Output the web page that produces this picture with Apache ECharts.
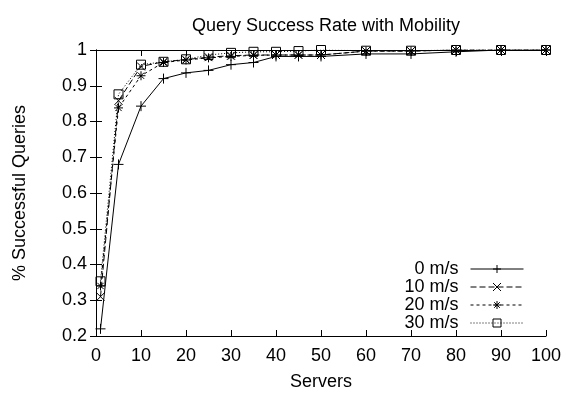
<!DOCTYPE html>
<html><head><meta charset="utf-8">
<script src="https://cdn.jsdelivr.net/npm/echarts@6/dist/echarts.min.js"></script>
<style>html,body{margin:0;padding:0;background:#fff}#c{width:566px;height:396px}</style>
</head><body><div id="c"></div>
<script>
const servers = [1, 5, 10, 15, 20, 25, 30, 35, 40, 45, 50, 60, 70, 80, 90, 100];
const s0 = [0.22, 0.68, 0.843, 0.92, 0.936, 0.943, 0.959, 0.965, 0.982, 0.982, 0.982, 0.989, 0.989, 0.995, 1.0, 1.0];
const s10 = [0.31, 0.858, 0.954, 0.967, 0.973, 0.98, 0.984, 0.986, 0.986, 0.986, 0.986, 0.997, 0.997, 1.0, 1.0, 1.0];
const s20 = [0.34, 0.838, 0.928, 0.965, 0.972, 0.978, 0.982, 0.985, 0.986, 0.986, 0.986, 0.997, 0.997, 1.0, 1.0, 1.0];
const s30 = [0.353, 0.876, 0.959, 0.967, 0.974, 0.986, 0.992, 0.995, 0.995, 0.997, 1.0, 0.998, 0.998, 1.0, 1.0, 1.0];
const seriesNames = ['0 m/s', '10 m/s', '20 m/s', '30 m/s'];

const font = 'Liberation Sans, Arial, Helvetica, sans-serif';
const FS = 18;
const sym = {
  plus: 'path://M0,5L10,5M5,0L5,10',
  cross: 'path://M0,0L10,10M10,0L0,10',
  star: 'path://M0,5L10,5M5,0L5,10M1.5,1.5L8.5,8.5M8.5,1.5L1.5,8.5',
  square: 'path://M0,0L10,0L10,10L0,10Z'
};
function mk(name, data, symbol, type, size) {
  return {
    name, type: 'line', data: servers.map((x, i) => [x, data[i]]),
    symbol, symbolSize: size, showSymbol: true,
    lineStyle: { color: '#000', width: 1, type },
    itemStyle: { color: 'none', borderColor: '#000', borderWidth: 1 },
    emphasis: { disabled: true }, animation: false
  };
}
const chart = echarts.init(document.getElementById('c'), null, { renderer: 'canvas' });
const axisCommon = {
  axisLine: { show: true, lineStyle: { color: '#000', width: 1 } },
  axisTick: { show: true, inside: true, length: 6, lineStyle: { color: '#000' } },
  splitLine: { show: false }
};
chart.setOption({
  backgroundColor: '#fff',
  animation: false,
  title: { text: 'Query Success Rate with Mobility', left: 321, textAlign: 'center', top: 12,
    textStyle: { fontFamily: font, fontSize: FS, fontWeight: 'normal', color: '#000' } },
  grid: { left: 96, right: 20, top: 50, bottom: 55 },
  legend: {
    orient: 'vertical', right: 37, top: 255, align: 'right',
    itemWidth: 53, itemHeight: 10, itemGap: 0,
    data: seriesNames,
    lineStyle: { width: 1 },
    itemStyle: { borderWidth: 1 },
    textStyle: { fontFamily: font, fontSize: FS, lineHeight: 18, color: '#000', width: 66, align: 'right', padding: [0, 7, 0, 0] },
    selectedMode: false
  },
  xAxis: [
    Object.assign({ type: 'value', min: 0, max: 100, interval: 10, position: 'bottom',
      name: 'Servers', nameLocation: 'middle', nameGap: 37,
      nameTextStyle: { fontFamily: font, fontSize: FS, color: '#000' },
      axisLabel: { fontFamily: font, fontSize: FS, color: '#000', margin: 11 } }, axisCommon),
    Object.assign({ type: 'value', min: 0, max: 100, interval: 10, position: 'top',
      axisLabel: { show: false } }, axisCommon)
  ],
  yAxis: [
    Object.assign({ type: 'value', min: 0.2, max: 1, interval: 0.1, position: 'left',
      name: '% Successful Queries', nameLocation: 'middle', nameGap: 67, nameRotate: 90,
      nameTextStyle: { fontFamily: font, fontSize: FS, color: '#000' },
      axisLabel: { fontFamily: font, fontSize: FS, color: '#000', margin: 9,
        formatter: v => String(Math.round(v * 10) / 10) } }, axisCommon),
    Object.assign({ type: 'value', min: 0.2, max: 1, interval: 0.1, position: 'right',
      axisLabel: { show: false } }, axisCommon)
  ],
  series: [
    mk(seriesNames[0], s0, sym.plus, 'solid', 10),
    mk(seriesNames[1], s10, sym.cross, [6, 3], 8),
    mk(seriesNames[2], s20, sym.star, [3, 3], 9),
    mk(seriesNames[3], s30, sym.square, [1, 2], 9)
  ]
});
</script></body></html>
